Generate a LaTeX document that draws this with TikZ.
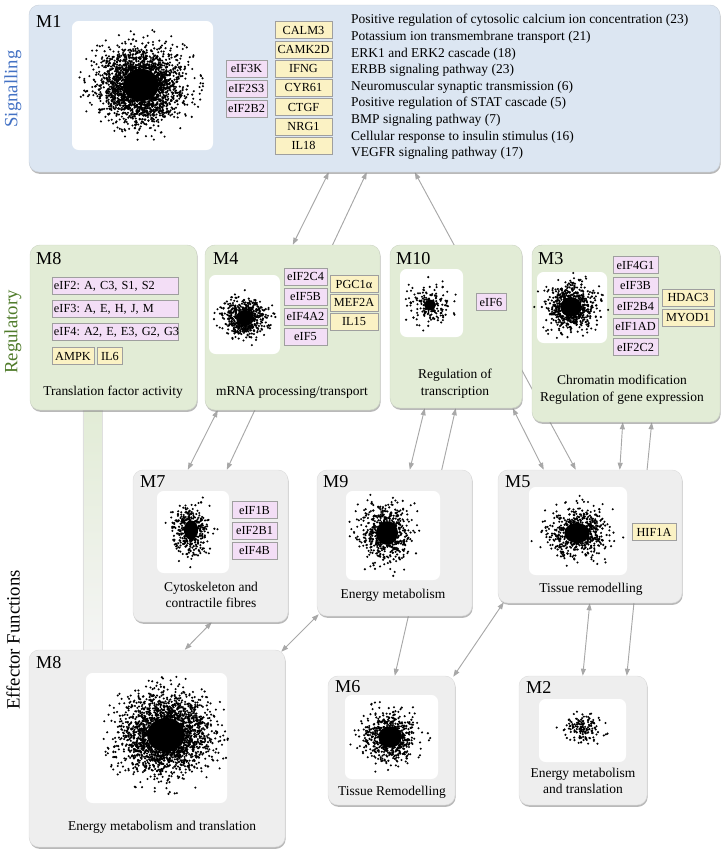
\documentclass[tikz,border=0pt]{standalone}
\usepackage{fontspec}
\setmainfont{Liberation Serif}
\usetikzlibrary{arrows.meta,calc,fit,backgrounds,shadows}
\definecolor{modblue}{HTML}{DCE6F2}
\definecolor{modgreen}{HTML}{E2ECD6}
\definecolor{modgrey}{HTML}{EEEEEE}
\definecolor{genepink}{HTML}{F3DEF6}
\definecolor{geneyel}{HTML}{FBF2C4}
\definecolor{linkgrey}{HTML}{A8A8A8}
\definecolor{sigtext}{HTML}{4472C4}
\definecolor{regtext}{HTML}{4F7B2A}
\tikzset{
  mod/.style={rounded corners=0.3cm, inner sep=0pt, drop shadow={shadow xshift=0.6pt, shadow yshift=-1.6pt, opacity=0.55}},
  sig/.style={mod, fill=modblue, draw=modblue!80!gray},
  reg/.style={mod, fill=modgreen, draw=modgreen!80!gray},
  eff/.style={mod, fill=modgrey, draw=modgrey!85!gray},
  panel/.style={fill=white, rounded corners=0.2cm, inner sep=0pt},
  gn/.style={draw=gray!75, line width=0.5pt, inner sep=0pt, minimum height=0.51cm, font=\fontsize{10.5}{12}\selectfont\frenchspacing},
  pk/.style={gn, fill=genepink},
  yl/.style={gn, fill=geneyel},
  mlbl/.style={anchor=west, inner sep=0pt, font=\fontsize{15.5}{17}\selectfont},
  captxt/.style={align=center, inner sep=0pt, font=\fontsize{11.5}{14.2}\selectfont},
  side/.style={rotate=90, inner sep=0pt, font=\fontsize{16}{18}\selectfont},
  lnk/.style={{Triangle[length=2.1mm,width=1.5mm]}-{Triangle[length=2.1mm,width=1.5mm]}, draw=linkgrey, line width=0.8pt},
}
% dot cloud: centre x, centre y, spread x, spread y, outer dots, seed, solid core (in spreads)
\newcommand{\dotcloud}[7]{%
  \pgfmathsetseed{#6}
  \fill (#1,#2) ellipse[x radius=#3*#7*0.03cm, y radius=#4*#7*0.03cm];
  \foreach \k in {1,...,#5}{
    \pgfmathsetmacro\rr{min(3.1,sqrt(#7*#7-2*ln(0.002+0.998*rnd)))}
    \pgfmathsetmacro\aa{360*rnd}
    \fill ({#1+#3*\rr*cos(\aa)},{#2+#4*\rr*sin(\aa)}) circle[radius=0.035cm];
  }
}

\begin{document}
\begin{tikzpicture}[x=0.03cm, y=-0.03cm, font=\fontsize{11.5}{14.2}\selectfont]
  \useasboundingbox (0,0) rectangle (726,855);

  % tiers
  \node[side, text=sigtext] (tsig) at (13,89) {Signalling};
  \node[side, text=regtext] (treg) at (13,332) {Regulatory};
  \node[side] (teff) at (13,640) {Effector Functions};

  % modules
  \node[sig, fit={(29,5)(720,172)}] (m1) {};
  \node[reg, fit={(30,245)(197,410)}] (m8) {};
  \node[reg, fit={(205,245)(380,410)}] (m4) {};
  \node[reg, fit={(390,245)(522,408)}] (m10) {};
  \node[reg, fit={(532,245)(720,422)}] (m3) {};
  \node[eff, fit={(133,470)(288,622)}] (m7) {};
  \node[eff, fit={(317,470)(472,616)}] (m9) {};
  \node[eff, fit={(498,470)(682,603)}] (m5) {};
  \node[eff, fit={(29,650)(285,847)}] (m8e) {};
  \node[eff, fit={(328,676)(455,805)}] (m6) {};
  \node[eff, fit={(519,676)(647,805)}] (m2) {};

  \node[mlbl] (m1l) at (36,21) {M1};
  \node[mlbl] (m8l) at (36,259) {M8};
  \node[mlbl] (m4l) at (213,259) {M4};
  \node[mlbl] (m10l) at (396,259) {M10};
  \node[mlbl] (m3l) at (538,259) {M3};
  \node[mlbl] (m7l) at (140,482) {M7};
  \node[mlbl] (m9l) at (323,482) {M9};
  \node[mlbl] (m5l) at (505,482) {M5};
  \node[mlbl] (m8el) at (36,663) {M8};
  \node[mlbl] (m6l) at (335,687) {M6};
  \node[mlbl] (m2l) at (526,687) {M2};

  % network panels
  \node[panel, fit={(72,21)(213,150)}] (m1p) {};
  \node[panel, fit={(209,275)(280,354)}] (m4p) {};
  \node[panel, fit={(400,269)(463,337)}] (m10p) {};
  \node[panel, fit={(537,272)(607,343)}] (m3p) {};
  \node[panel, fit={(157,491)(229,573)}] (m7p) {};
  \node[panel, fit={(346,491)(440,580)}] (m9p) {};
  \node[panel, fit={(529,487)(627,575)}] (m5p) {};
  \node[panel, fit={(86,673)(227,803)}] (m8ep) {};
  \node[panel, fit={(345,695)(438,779)}] (m6p) {};
  \node[panel, fit={(539,699)(626,762)}] (m2p) {};

  \dotcloud{141}{85}{20}{18}{1700}{11}{0.9}
  \dotcloud{245}{318}{10}{9}{420}{12}{0.9}
  \dotcloud{430}{305}{10}{9}{150}{13}{0.6}
  \dotcloud{571}{307}{12}{11}{480}{14}{0.9}
  \dotcloud{191}{530}{9}{12}{300}{15}{0.8}
  \dotcloud{387}{533}{13}{14}{420}{16}{0.85}
  \dotcloud{577}{533}{15}{12}{440}{17}{0.85}
  \dotcloud{166}{735}{21}{19}{1700}{18}{0.9}
  \dotcloud{390}{737}{13}{12}{440}{19}{0.9}
  \dotcloud{583}{728}{10}{7}{150}{20}{0.01}

  % genes
  \foreach \g [count=\i from 0] in {eIF3K,eIF2S3,eIF2B2}
    \node[pk, minimum width=1.23cm] (m1e\i) at (246.5,68.5+20*\i) {\g};
  \foreach \g [count=\i from 0] in {CALM3,CAMK2D,IFNG,CYR61,CTGF,NRG1,IL18}
    \node[yl, minimum width=1.71cm] (m1g\i) at (303.5,30+19.3*\i) {\g};
  \foreach \g [count=\i from 0] in {{eIF2: A, C3, S1, S2},{eIF3: A, E, H, J, M},{eIF4: A2, E, E3, G2, G3}}
    \node[pk, text width=3.66cm, inner xsep=0.06cm, align=left] (m8e\i) at (115,286+23*\i) {\mbox{\g}};
  \node[yl, minimum width=1.26cm] (m8g0) at (73,356) {AMPK};
  \node[yl, minimum width=0.76cm] (m8g1) at (110,356) {IL6};
  \foreach \g [count=\i from 0] in {eIF2C4,eIF5B,eIF4A2,eIF5}
    \node[pk, minimum width=1.29cm] (m4e\i) at (305.5,276.5+20*\i) {\g};
  \foreach \g [count=\i from 0] in {PGC1α,MEF2A,IL15}
    \node[yl, minimum width=1.44cm] (m4g\i) at (354,284+18.7*\i) {\g};
  \node[pk, minimum width=0.9cm] (m10e0) at (491,302) {eIF6};
  \foreach \g [count=\i from 0] in {eIF4G1,eIF3B,eIF2B4,eIF1AD,eIF2C2}
    \node[pk, minimum width=1.35cm] (m3e\i) at (635.5,265+20.5*\i) {\g};
  \foreach \g [count=\i from 0] in {HDAC3,MYOD1}
    \node[yl, minimum width=1.56cm] (m3g\i) at (688,297.5+20*\i) {\g};
  \foreach \g [count=\i from 0] in {eIF1B,eIF2B1,eIF4B}
    \node[pk, minimum width=1.35cm] (m7e\i) at (254.5,510+20.5*\i) {\g};
  \node[yl, minimum width=1.32cm] (m5g0) at (654,532) {HIF1A};

  % annotations
  \node[captxt, anchor=north west, align=left] (m1t) at (351,14) {Positive regulation of cytosolic calcium ion concentration (23)\\
    Potassium ion transmembrane transport (21)\\
    ERK1 and ERK2 cascade (18)\\
    ERBB signaling pathway (23)\\
    Neuromuscular synaptic transmission (6)\\
    Positive regulation of STAT cascade (5)\\
    BMP signaling pathway (7)\\
    Cellular response to insulin stimulus (16)\\
    VEGFR signaling pathway (17)};
  \node[captxt] (m8t) at (113,392) {Translation factor activity};
  \node[captxt] (m4t) at (292,392) {mRNA processing/transport};
  \node[captxt] (m10t) at (455,384) {Regulation of\\transcription};
  \node[captxt] (m3t) at (622,390) {Chromatin modification\\Regulation of gene expression};
  \node[captxt] (m7t) at (211,595) {Cytoskeleton and\\contractile fibres};
  \node[captxt] (m9t) at (393,595) {Energy metabolism};
  \node[captxt] (m5t) at (591,589) {Tissue remodelling};
  \node[captxt] (m8et) at (162,827) {Energy metabolism and translation};
  \node[captxt] (m6t) at (392,792) {Tissue Remodelling};
  \node[captxt] (m2t) at (583,781) {Energy metabolism\\and translation};

  \begin{scope}[on background layer]
    \shade[top color=modgreen, bottom color=modgrey!60!white, draw=gray!25] ($(m8.south west)+(53,0)$) rectangle ($(m8e.north west)+(73,0)$);
    \draw[lnk] ($(m4.north west)+(88,0)$) -- ($(m1.south west)+(300,0)$);
    \draw[lnk] ($(m7.north west)+(94,0)$) -- ($(m1.south west)+(338,0)$);
    \draw[lnk] ($(m5.north west)+(78,0)$) -- ($(m1.south west)+(386,0)$);
    \draw[lnk] ($(m4.south west)+(13,0)$) -- ($(m7.north west)+(55,0)$);
    \draw[lnk] ($(m10.south west)+(35,0)$) -- ($(m9.north west)+(93,0)$);
    \draw[lnk] ($(m6.north west)+(67,0)$) -- ($(m10.south west)+(66,0)$);
    \draw[lnk] ($(m10.south west)+(123,0)$) -- ($(m5.north west)+(46,0)$);
    \draw[lnk] ($(m3.south west)+(91,0)$) -- ($(m5.north west)+(122,0)$);
    \draw[lnk] ($(m2.north west)+(108,0)$) -- ($(m3.south west)+(120,0)$);
    \draw[lnk] ($(m8e.north west)+(156,0)$) -- ($(m7.south west)+(79,0)$);
    \draw[lnk] ($(m8e.north east)+(-4,2)$) -- ($(m9.south west)+(2,-2)$);
    \draw[lnk] ($(m6.north east)+(-2,1)$) -- ($(m5.south west)+(6,-1)$);
    \draw[lnk] ($(m5.south west)+(92,0)$) -- ($(m2.north west)+(64,0)$);
  \end{scope}
\end{tikzpicture}
\end{document}
